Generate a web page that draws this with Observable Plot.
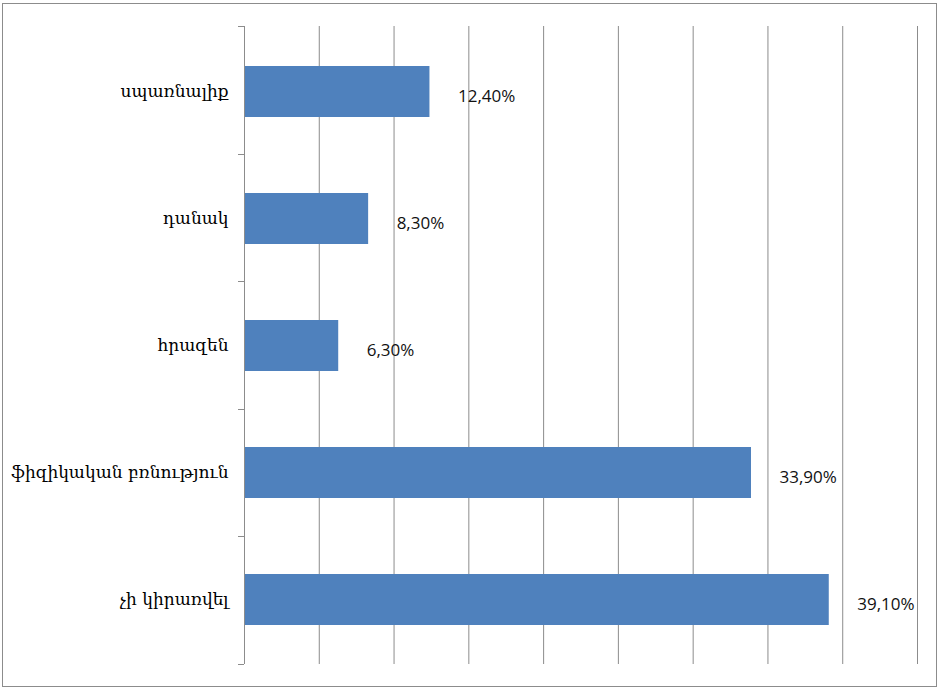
<!DOCTYPE html>
<html>
<head>
<meta charset="utf-8">
<script src="https://cdn.jsdelivr.net/npm/d3@7"></script>
<script src="https://cdn.jsdelivr.net/npm/@observablehq/plot@0.6"></script>
<style>
  html, body { margin: 0; padding: 0; background: #fff; }
  #wrap { position: relative; width: 939px; height: 688px; overflow: hidden; }
  #frame { position: absolute; left: 2px; top: 3px; width: 933px; height: 682px; border: 1.5px solid #8c8c8c; box-sizing: content-box; pointer-events: none; }
  #chart { position: absolute; left: 0; top: 0; }
</style>
</head>
<body>
<div id="wrap">
  <div id="chart"></div>
  <div id="frame"></div>
</div>
<script>
const categories = ["սպառնալիք", "դանակ", "հրազեն", "ֆիզիկական բռնություն", "չի կիրառվել"];
const values = [12.4, 8.3, 6.3, 33.9, 39.1];
const xTicks = [0, 5, 10, 15, 20, 25, 30, 35, 40, 45];

const data = categories.map((c, i) => ({category: c, value: values[i]}));
const fmt = v => v.toFixed(2).replace(".", ",") + "%";

const chart = Plot.plot({
  width: 939,
  height: 688,
  marginLeft: 244,
  marginRight: 22,
  marginTop: 26,
  marginBottom: 24,
  style: {background: "transparent", overflow: "visible"},
  x: {domain: [0, 45], ticks: xTicks, axis: null},
  y: {domain: categories, paddingInner: 0.6, paddingOuter: 0.3, axis: null},
  marks: [
    Plot.gridX(xTicks, {stroke: "#8c8c8c", strokeOpacity: 1, strokeWidth: 1}),
    Plot.barX(data, {y: "category", x: "value", fill: "#4f81bd"}),
    Plot.ruleX([0], {stroke: "#8c8c8c", strokeWidth: 1}),
    Plot.axisY({tickSize: 0, tickPadding: 16, fontSize: 17, fontFamily: "DejaVu Serif", fill: "#000", label: null}),
    Plot.text(data, {
      y: "category", x: "value", text: d => fmt(d.value),
      textAnchor: "start", dx: 28, dy: 5,
      fontSize: 17, fontFamily: "Open Sans", fill: "#111"
    })
  ]
});

document.getElementById("chart").appendChild(chart);

// band boundary tick marks on the category axis, from the library's scales
const ys = chart.scale("y");
const xs = chart.scale("x");
const [r0, r1] = ys.range;
const n = categories.length;
const x0 = xs.apply(0);
const svg = d3.select(chart.tagName === "svg" ? chart : chart.querySelector("svg"));
const g = svg.append("g").attr("stroke", "#8c8c8c").attr("stroke-width", 1);
for (let i = 0; i <= n; i++) {
  const yy = Math.round(r0 + i * (r1 - r0) / n) + 0.5;
  g.append("line").attr("x1", x0 - 6).attr("x2", x0).attr("y1", yy).attr("y2", yy);
}
</script>
</body>
</html>
